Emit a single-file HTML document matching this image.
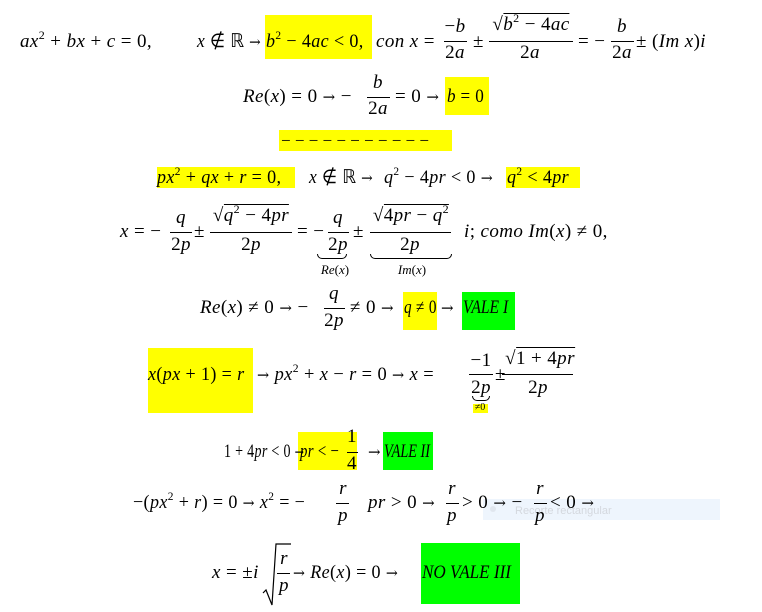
<!DOCTYPE html>
<html><head><meta charset="utf-8"><style>
body{margin:0;width:762px;height:612px;background:#fff;position:relative;overflow:hidden;font-family:"Liberation Serif",serif;color:#000}
.t{position:absolute;white-space:nowrap;font-size:19px;line-height:22px;letter-spacing:0.4px;transform-origin:0 0}
.c{transform:translateX(-50%);text-align:center}
.y{position:absolute;background:#ffff00}
.g{position:absolute;background:#00ff00}
.l{position:absolute;height:1px;background:#000}
i{font-style:italic}
sup{font-size:12px;vertical-align:8px;line-height:0}
.s{font-size:13px;letter-spacing:0}
.a{font-family:"DejaVu Serif",serif;font-size:15px}
.ub{position:absolute;border:1px solid #000;border-top:none;height:4px;border-radius:0 0 5px 5px}
</style></head><body>
<!-- highlights -->
<div class="y" style="left:265px;top:15px;width:107px;height:44px"></div>
<div class="y" style="left:445px;top:77px;width:44px;height:38px"></div>
<div class="y" style="left:279px;top:130px;width:173px;height:21px"></div>
<div class="y" style="left:157px;top:167px;width:138px;height:21px"></div>
<div class="y" style="left:506px;top:167px;width:74px;height:21px"></div>
<div class="y" style="left:403px;top:292px;width:34px;height:38px"></div>
<div class="g" style="left:462px;top:292px;width:53px;height:38px"></div>
<div class="y" style="left:148px;top:348px;width:105px;height:65px"></div>
<div class="y" style="left:473px;top:404px;width:15px;height:9px"></div>
<div class="y" style="left:298px;top:432px;width:59px;height:38px"></div>
<div class="g" style="left:383px;top:432px;width:50px;height:38px"></div>
<div class="g" style="left:421px;top:543px;width:99px;height:61px"></div>

<!-- row 1 -->
<div class="t" style="left:20px;top:31px"><i>ax</i><sup>2</sup> + <i>bx</i> + <i>c</i> = 0,</div>
<div class="t" style="left:197px;top:31px;transform:scaleX(0.92)"><i>x</i> ∉ ℝ <span class="a">→</span></div>
<div class="t" style="left:266px;top:31px;transform:scaleX(0.95)"><i>b</i><sup>2</sup> − 4<i>ac</i> &lt; 0,</div>
<div class="t" style="left:376px;top:31px"><i>con x</i> =</div>
<div class="t c" style="left:455px;top:16px">−<i>b</i></div><div class="l" style="left:444px;top:41px;width:23px"></div><div class="t c" style="left:455px;top:42px">2<i>a</i></div>
<div class="t" style="left:473px;top:31px">±</div>
<div class="t c" style="left:531px;top:14px">√<span style="border-top:1px solid #000"><i>b</i><sup>2</sup> − 4<i>ac</i></span></div><div class="l" style="left:489px;top:41px;width:84px"></div><div class="t c" style="left:530px;top:42px">2<i>a</i></div>
<div class="t" style="left:578px;top:31px">= −</div>
<div class="t c" style="left:622px;top:16px"><i>b</i></div><div class="l" style="left:611px;top:41px;width:23px"></div><div class="t c" style="left:622px;top:42px">2<i>a</i></div>
<div class="t" style="left:636px;top:31px">± (<i>Im x</i>)<i>i</i></div>

<!-- row 2 -->
<div class="t" style="left:243px;top:86px"><i>Re</i>(<i>x</i>) = 0 <span class="a">→</span> −</div>
<div class="t c" style="left:378px;top:72px"><i>b</i></div><div class="l" style="left:367px;top:97px;width:23px"></div><div class="t c" style="left:378px;top:98px">2<i>a</i></div>
<div class="t" style="left:395px;top:86px">= 0 <span class="a">→</span></div>
<div class="t" style="left:447px;top:86px;transform:scaleX(0.9)"><i>b</i> = 0</div>

<!-- row 3 -->
<div class="t" style="left:281px;top:130px;font-size:17px;letter-spacing:0">− − − − − − − − − − −</div>

<!-- row 4 -->
<div class="t" style="left:157px;top:167px;transform:scaleX(0.95)"><i>px</i><sup>2</sup> + <i>qx</i> + <i>r</i> = 0,</div>
<div class="t" style="left:309px;top:167px;transform:scaleX(0.92)"><i>x</i> ∉ ℝ <span class="a">→</span></div>
<div class="t" style="left:384px;top:167px;transform:scaleX(0.95)"><i>q</i><sup>2</sup> − 4<i>pr</i> &lt; 0 <span class="a">→</span></div>
<div class="t" style="left:507px;top:167px;transform:scaleX(0.95)"><i>q</i><sup>2</sup> &lt; 4<i>pr</i></div>

<!-- row 5 -->
<div class="t" style="left:120px;top:221px"><i>x</i> = −</div>
<div class="t c" style="left:181px;top:207px"><i>q</i></div><div class="l" style="left:170px;top:232px;width:22px"></div><div class="t c" style="left:181px;top:234px">2<i>p</i></div>
<div class="t" style="left:194px;top:221px">±</div>
<div class="t c" style="left:251px;top:205px">√<span style="border-top:1px solid #000"><i>q</i><sup>2</sup> − 4<i>pr</i></span></div><div class="l" style="left:210px;top:232px;width:82px"></div><div class="t c" style="left:251px;top:234px">2<i>p</i></div>
<div class="t" style="left:297px;top:221px">= −</div>
<div class="t c" style="left:338px;top:207px"><i>q</i></div><div class="l" style="left:328px;top:232px;width:21px"></div><div class="t c" style="left:338px;top:234px">2<i>p</i></div>
<div class="ub" style="left:317px;top:254px;width:28px"></div><div class="t c s" style="left:335px;top:259px"><i>Re</i>(<i>x</i>)</div>
<div class="t" style="left:353px;top:221px">±</div>
<div class="t c" style="left:411px;top:205px">√<span style="border-top:1px solid #000">4<i>pr</i> − <i>q</i><sup>2</sup></span></div><div class="l" style="left:370px;top:232px;width:81px"></div><div class="t c" style="left:410px;top:234px">2<i>p</i></div>
<div class="ub" style="left:370px;top:254px;width:80px"></div><div class="t c s" style="left:412px;top:259px"><i>Im</i>(<i>x</i>)</div>
<div class="t" style="left:464px;top:221px"><i>i</i>; <i>como Im</i>(<i>x</i>) ≠ 0,</div>

<!-- row 6 -->
<div class="t" style="left:200px;top:297px"><i>Re</i>(<i>x</i>) ≠ 0 <span class="a">→</span> −</div>
<div class="t c" style="left:334px;top:283px"><i>q</i></div><div class="l" style="left:324px;top:308px;width:21px"></div><div class="t c" style="left:334px;top:310px">2<i>p</i></div>
<div class="t" style="left:350px;top:297px">≠ 0 <span class="a">→</span></div>
<div class="t" style="left:404px;top:297px;transform:scaleX(0.8)"><i>q</i> ≠ 0</div>
<div class="t" style="left:441px;top:297px"><span class="a">→</span></div>
<div class="t" style="left:463px;top:297px;transform:scaleX(0.82);letter-spacing:0"><i>VALE I</i></div>

<!-- row 7 -->
<div class="t" style="left:148px;top:364px;transform:scaleX(0.95)"><i>x</i>(<i>px</i> + 1) = <i>r</i></div>
<div class="t" style="left:257px;top:364px;transform:scaleX(0.97)"><span class="a">→</span> <i>px</i><sup>2</sup> + <i>x</i> − <i>r</i> = 0 <span class="a">→</span> <i>x</i> =</div>
<div class="t c" style="left:481px;top:350px">−1</div><div class="l" style="left:469px;top:374px;width:24px"></div><div class="t c" style="left:481px;top:377px">2<i>p</i></div>
<div class="ub" style="left:472px;top:396px;width:16px"></div><div class="t c" style="left:480px;top:402px;font-size:10px;line-height:11px;letter-spacing:0">≠0</div>
<div class="t" style="left:495px;top:364px">±</div>
<div class="t c" style="left:540px;top:348px">√<span style="border-top:1px solid #000">1 + 4<i>pr</i></span></div><div class="l" style="left:502px;top:374px;width:71px"></div><div class="t c" style="left:538px;top:377px">2<i>p</i></div>

<!-- row 8 -->
<div class="t" style="left:224px;top:441px;transform:scaleX(0.74)">1 + 4<i>pr</i> &lt; 0 <span class="a">→</span></div>
<div class="t" style="left:300px;top:441px;transform:scaleX(0.78)"><i>pr</i> &lt; −</div>
<div class="t c" style="left:352px;top:426px">1</div><div class="l" style="left:347px;top:452px;width:11px"></div><div class="t c" style="left:352px;top:453px">4</div>
<div class="t" style="left:368px;top:441px"><span class="a">→</span></div>
<div class="t" style="left:384px;top:441px;transform:scaleX(0.75);letter-spacing:0"><i>VALE II</i></div>

<!-- row 9 -->
<div style="position:absolute;left:483px;top:499px;width:237px;height:21px;background:#eef5fd"></div>
<div style="position:absolute;left:490px;top:506px;width:6px;height:6px;border-radius:50%;background:#e0e6ee"></div>
<div class="t" style="left:515px;top:500px;font-family:'Liberation Sans',sans-serif;font-size:11px;letter-spacing:0;color:#d4d8de">Recorte rectangular</div>
<div class="t" style="left:133px;top:492px;transform:scaleX(0.95)">−(<i>px</i><sup>2</sup> + <i>r</i>) = 0 <span class="a">→</span> <i>x</i><sup>2</sup> = −</div>
<div class="t c" style="left:343px;top:478px"><i>r</i></div><div class="l" style="left:336px;top:503px;width:13px"></div><div class="t c" style="left:343px;top:505px"><i>p</i></div>
<div class="t" style="left:368px;top:492px"><i>pr</i> &gt; 0 <span class="a">→</span></div>
<div class="t c" style="left:452px;top:478px"><i>r</i></div><div class="l" style="left:446px;top:503px;width:13px"></div><div class="t c" style="left:452px;top:505px"><i>p</i></div>
<div class="t" style="left:462px;top:492px">&gt; 0 <span class="a">→</span> −</div>
<div class="t c" style="left:540px;top:478px"><i>r</i></div><div class="l" style="left:534px;top:503px;width:13px"></div><div class="t c" style="left:540px;top:505px"><i>p</i></div>
<div class="t" style="left:550px;top:492px">&lt; 0 <span class="a">→</span></div>

<!-- row 10 -->
<div class="t" style="left:212px;top:562px"><i>x</i> = ±<i>i</i></div>
<svg style="position:absolute;left:262px;top:543px" width="30" height="64"><polyline points="1,50 4,47 10,62 14,1 29,1" fill="none" stroke="#000" stroke-width="1.2"/></svg>
<div class="t c" style="left:284px;top:548px"><i>r</i></div><div class="l" style="left:277px;top:573px;width:13px"></div><div class="t c" style="left:284px;top:575px"><i>p</i></div>
<div class="t" style="left:293px;top:562px;transform:scaleX(0.95)"><span class="a">→</span> <i>Re</i>(<i>x</i>) = 0 <span class="a">→</span></div>
<div class="t" style="left:422px;top:562px;transform:scaleX(0.9);letter-spacing:0"><i>NO VALE III</i></div>
</body></html>
